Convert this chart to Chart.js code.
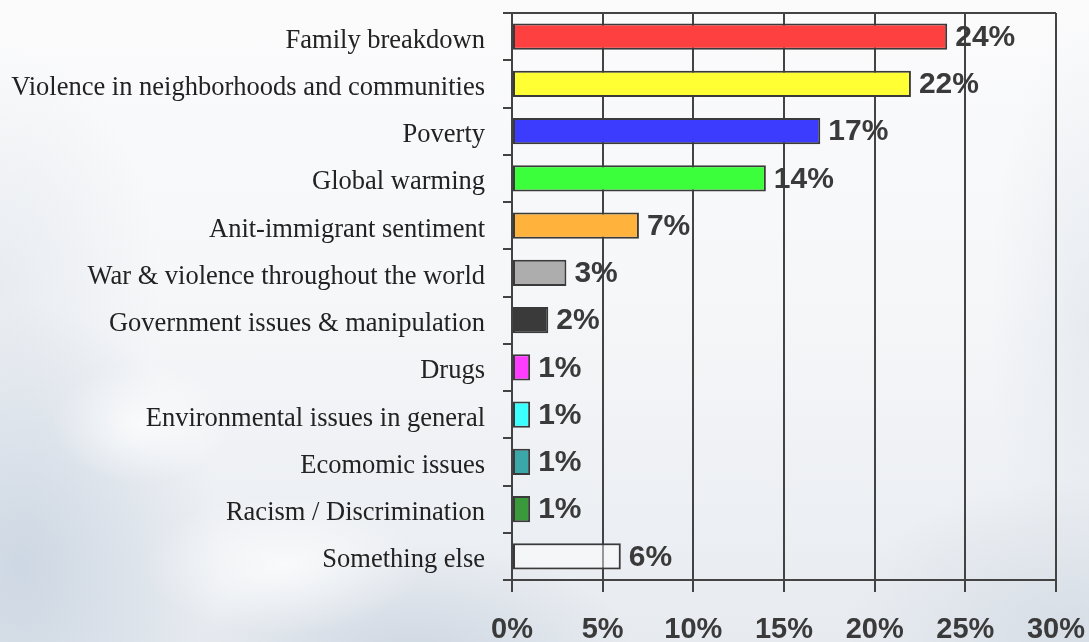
<!DOCTYPE html>
<html>
<head>
<meta charset="utf-8">
<title>Concerns</title>
<script src="https://cdn.jsdelivr.net/npm/chart.js@4.4.1/dist/chart.umd.min.js"></script>
<style>
    html, body {
        margin: 0;
        padding: 0;
    }
    body {
        width: 1089px;
        height: 642px;
        overflow: hidden;
        /* soft sky behind the chart */
        background:
            radial-gradient(ellipse 90px 60px at 13% 66%, rgba(255, 255, 255, 0.75), rgba(255, 255, 255, 0) 100%),
            radial-gradient(ellipse 140px 70px at 26% 88%, rgba(255, 255, 255, 0.7), rgba(255, 255, 255, 0) 100%),
            radial-gradient(ellipse 200px 260px at 2% 88%, rgba(200, 211, 224, 0.85), rgba(200, 211, 224, 0) 100%),
            radial-gradient(ellipse 220px 110px at 38% 102%, rgba(203, 212, 224, 0.85), rgba(203, 212, 224, 0) 100%),
            radial-gradient(ellipse 220px 150px at 98% 98%, rgba(208, 216, 226, 0.7), rgba(208, 216, 226, 0) 100%),
            radial-gradient(ellipse 100px 300px at 100% 50%, rgba(222, 228, 235, 0.6), rgba(222, 228, 235, 0) 100%),
            radial-gradient(ellipse 160px 240px at 0% 45%, rgba(226, 231, 237, 0.7), rgba(226, 231, 237, 0) 100%),
            linear-gradient(#fbfbfc 0%, #f6f7f9 45%, #e7ebf0 100%);
    }
    #wrap {
        position: relative;
        width: 1089px;
        height: 642px;
    }
</style>
</head>
<body>
<div id="wrap"><canvas id="chart"></canvas></div>
<script>
const categories = [
    'Family breakdown',
    'Violence in neighborhoods and communities',
    'Poverty',
    'Global warming',
    'Anit-immigrant sentiment',
    'War & violence throughout the world',
    'Government issues & manipulation',
    'Drugs',
    'Environmental issues in general',
    'Ecomomic issues',
    'Racism / Discrimination',
    'Something else'
];
const shares = [24, 22, 17, 14, 7, 3, 2, 1, 1, 1, 1, 6];
const barColors = [
    '#ff4040', '#ffff33', '#3c3cff', '#3cff3c', '#ffb23c', '#adadad',
    '#3a3a3a', '#ff3cff', '#3cffff', '#3aa8a8', '#3a993a', 'rgba(255,255,255,0.45)'
];
const axisTicks = [0, 5, 10, 15, 20, 25, 30];

const lineColor = '#434343';

// top edge of the plot frame
const frameTop = {
    id: 'frameTop',
    beforeDatasetsDraw(chart) {
        const { ctx, chartArea } = chart;
        ctx.save();
        ctx.strokeStyle = lineColor;
        ctx.lineWidth = 2;
        ctx.beginPath();
        ctx.moveTo(chartArea.left, chartArea.top);
        ctx.lineTo(chartArea.right, chartArea.top);
        ctx.stroke();
        ctx.restore();
    }
};

// percentage written after each bar
const valueLabels = {
    id: 'valueLabels',
    afterDatasetsDraw(chart) {
        const { ctx } = chart;
        const meta = chart.getDatasetMeta(0);
        ctx.save();
        ctx.font = 'bold 30px "Liberation Sans", Arial, sans-serif';
        ctx.fillStyle = '#3a3a3a';
        ctx.textAlign = 'left';
        ctx.textBaseline = 'middle';
        meta.data.forEach((bar, i) => {
            ctx.fillText(shares[i] + '%', bar.x + 8, bar.y + 1);
        });
        ctx.restore();
    }
};

new Chart(document.getElementById('chart'), {
    type: 'bar',
    data: {
        labels: categories,
        datasets: [{
            data: shares,
            backgroundColor: barColors,
            borderColor: '#3a3a3a',
            borderWidth: 2,
            borderSkipped: false,
            categoryPercentage: 1,
            barPercentage: 0.56
        }]
    },
    options: {
        indexAxis: 'y',
        responsive: true,
        maintainAspectRatio: false,
        animation: false,
        layout: {
            padding: { top: 13, right: 33, bottom: 0, left: 0 }
        },
        plugins: {
            legend: { display: false },
            tooltip: { enabled: false }
        },
        scales: {
            x: {
                min: axisTicks[0],
                max: axisTicks[axisTicks.length - 1],
                afterBuildTicks(scale) {
                    scale.ticks = axisTicks.map(v => ({ value: v }));
                },
                afterFit(scale) {
                    scale.height = 62;
                    scale.paddingLeft = 0;
                    scale.paddingRight = 0;
                },
                ticks: {
                    callback: v => v + '%',
                    color: '#3a3a3a',
                    font: { family: '"Liberation Sans", Arial, sans-serif', size: 29, weight: 'bold' },
                    padding: 21,
                    maxRotation: 0
                },
                grid: {
                    color: lineColor,
                    lineWidth: 2,
                    tickLength: 12
                },
                border: { color: lineColor, width: 2 }
            },
            y: {
                afterFit(scale) {
                    scale.width = 512;
                    scale.paddingTop = 0;
                    scale.paddingBottom = 0;
                },
                ticks: {
                    color: '#222',
                    font: { family: '"Liberation Serif", "Times New Roman", serif', size: 26.5 },
                    padding: 18,
                    labelOffset: 4,
                    autoSkip: false
                },
                grid: {
                    drawOnChartArea: false,
                    color: lineColor,
                    lineWidth: 2,
                    tickLength: 9
                },
                border: { color: lineColor, width: 2 }
            }
        }
    },
    plugins: [frameTop, valueLabels]
});
</script>
</body>
</html>
